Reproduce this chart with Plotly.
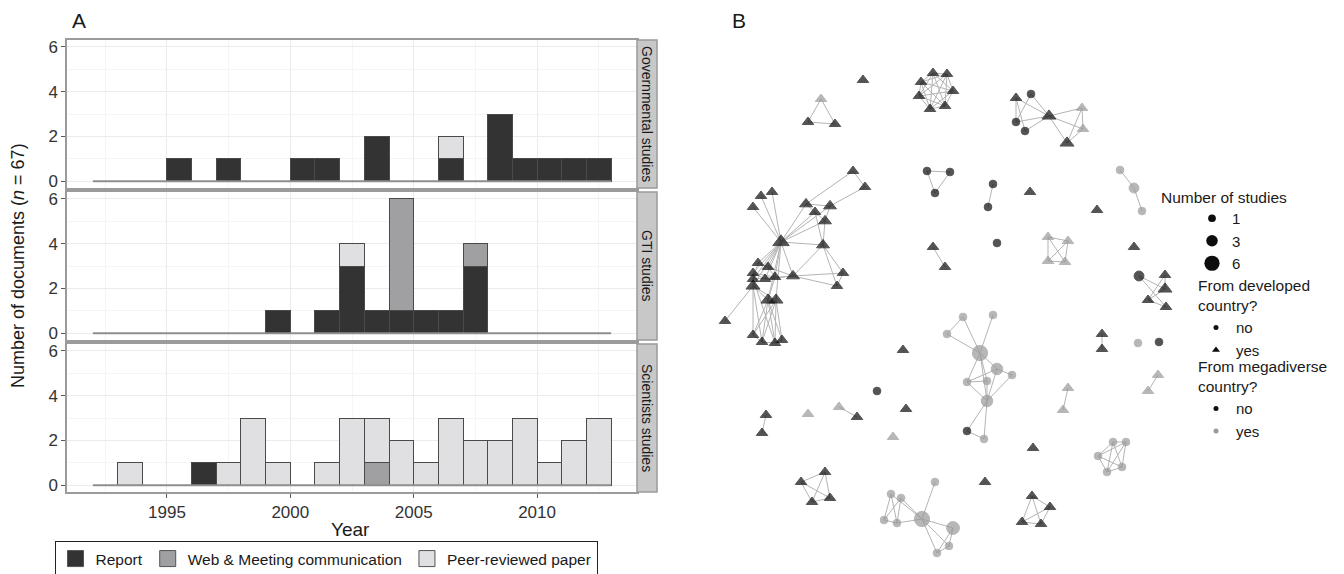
import math
import plotly.graph_objects as go

W, H = 1344, 574
OFF = 8  # the page body margin shifts the figure by this many pixels
FONT = "Liberation Sans, Arial, Helvetica, sans-serif"


def px(x):
    return (x - OFF) / W


def py(y):
    return 1 - (y - OFF) / H


# ---------------- Panel A data ----------------
years = list(range(1992, 2013))  # histogram bin starts (bin width 1 year)
doc_types = ["Report", "Web & Meeting communication", "Peer-reviewed paper"]
type_colors = ["#333333", "#a0a0a2", "#e0e0e2"]
panel_names = ["Governmental studies", "GTI studies", "Scientists studies"]

gov_report = [0, 0, 0, 1, 0, 1, 0, 0, 1, 1, 0, 2, 0, 0, 1, 0, 3, 1, 1, 1, 1]
gov_web    = [0, 0, 0, 0, 0, 0, 0, 0, 0, 0, 0, 0, 0, 0, 0, 0, 0, 0, 0, 0, 0]
gov_peer   = [0, 0, 0, 0, 0, 0, 0, 0, 0, 0, 0, 0, 0, 0, 1, 0, 0, 0, 0, 0, 0]

gti_report = [0, 0, 0, 0, 0, 0, 0, 1, 0, 1, 3, 1, 1, 1, 1, 3, 0, 0, 0, 0, 0]
gti_web    = [0, 0, 0, 0, 0, 0, 0, 0, 0, 0, 0, 0, 5, 0, 0, 1, 0, 0, 0, 0, 0]
gti_peer   = [0, 0, 0, 0, 0, 0, 0, 0, 0, 0, 1, 0, 0, 0, 0, 0, 0, 0, 0, 0, 0]

sci_report = [0, 0, 0, 0, 1, 0, 0, 0, 0, 0, 0, 0, 0, 0, 0, 0, 0, 0, 0, 0, 0]
sci_web    = [0, 0, 0, 0, 0, 0, 0, 0, 0, 0, 0, 1, 0, 0, 0, 0, 0, 0, 0, 0, 0]
sci_peer   = [0, 1, 0, 0, 0, 1, 3, 1, 0, 1, 3, 2, 2, 1, 3, 2, 2, 3, 1, 2, 3]

y_ticks = [0, 2, 4, 6]
x_ticks = [1995, 2000, 2005, 2010]

# ---------------- Panel B data (network layout) ----------------
node_x = [821, 808, 835, 863,
          933, 947, 921, 953, 919, 930, 945,
          1016, 1031, 1016, 1025, 1049, 1082, 1083, 1067,
          853, 865, 772, 761, 753, 806, 830, 815, 825, 781, 823,
          758, 768, 753, 753, 775, 765, 793, 843, 837, 753, 768, 776,
          725, 753, 762, 775, 782,
          927, 950, 935, 993, 988, 1030, 1120, 1134, 1142, 1097, 933, 945,
          997, 1048, 1068, 1048, 1065, 1134,
          1139, 1165, 1165, 1148, 1166,
          1102, 1102, 1138, 1159, 1158, 1148, 1068, 1063,
          1113, 1126, 1098, 1122, 1107,
          963, 993, 947, 980, 997, 1012, 967, 987, 987, 967, 984,
          903, 877, 906, 893, 1033, 985, 766, 762, 808, 839, 857,
          801, 825, 812, 830,
          935, 891, 901, 884, 897, 922, 953, 949, 937,
          1032, 1050, 1022, 1041]
node_y = [99, 122, 124, 80,
          73, 74, 82, 91, 96, 109, 106,
          98, 94, 122, 131, 116, 108, 129, 143,
          171, 187, 192, 196, 207, 204, 206, 212, 221, 242, 245,
          263, 267, 273, 279, 277, 279, 276, 273, 286, 286, 300, 300,
          321, 335, 342, 343, 340,
          171, 172, 193, 184, 207, 192, 170, 188, 211, 210, 247, 267,
          243, 237, 241, 261, 262, 247,
          276, 275, 289, 300, 307,
          334, 349, 343, 342, 375, 391, 388, 410,
          442, 442, 456, 467, 472,
          317, 315, 334, 353, 369, 375, 382, 381, 401, 431, 439,
          350, 391, 409, 437, 448, 482, 415, 433, 414, 407, 417,
          482, 472, 502, 498,
          482, 494, 498, 520, 523, 519, 528, 546, 553,
          496, 507, 522, 524]
node_studies = [1, 1, 1, 1,
                1, 1, 1, 1, 1, 1, 1,
                1, 1, 1, 1, 3, 1, 1, 3,
                1, 1, 1, 1, 1, 2, 2, 1, 2, 6, 2,
                1, 1, 1, 1, 1, 1, 2, 1, 1, 3, 3, 3,
                1, 1, 1, 1, 1,
                1, 1, 1, 1, 1, 1, 1, 2, 1, 1, 1, 1,
                1, 1, 1, 1, 1, 1,
                2, 1, 3, 1, 1,
                1, 1, 1, 1, 1, 1, 1, 1,
                1, 1, 1, 1, 1,
                1, 1, 1, 6, 3, 1, 1, 1, 3, 1, 1,
                1, 1, 1, 1, 1, 1, 1, 1, 1, 1, 1,
                1, 1, 1, 1,
                1, 1, 1, 1, 1, 6, 4, 1, 1,
                1, 1, 1, 1]
# 1 = from developed country (triangle), 0 = not (circle)
node_developed = [1, 1, 1, 1,
                  1, 1, 1, 1, 1, 1, 1,
                  1, 0, 0, 0, 1, 1, 1, 1,
                  1, 1, 1, 1, 1, 1, 1, 1, 1, 1, 1,
                  1, 1, 1, 1, 1, 1, 1, 1, 1, 1, 1, 1,
                  1, 1, 1, 1, 1,
                  0, 0, 0, 0, 0, 1, 0, 0, 0, 1, 1, 1,
                  0, 1, 1, 1, 1, 1,
                  0, 1, 1, 1, 1,
                  1, 1, 0, 0, 1, 1, 1, 1,
                  0, 0, 0, 0, 0,
                  0, 0, 0, 0, 0, 0, 0, 0, 0, 0, 0,
                  1, 0, 1, 1, 1, 1, 1, 1, 1, 1, 1,
                  1, 1, 1, 1,
                  0, 0, 0, 0, 0, 0, 0, 0, 0,
                  1, 1, 1, 1]
# 1 = from megadiverse country (grey), 0 = not (black)
node_megadiverse = [1, 0, 0, 0,
                    0, 0, 0, 0, 0, 0, 0,
                    0, 0, 0, 0, 0, 1, 1, 0,
                    0, 0, 0, 0, 0, 0, 0, 0, 0, 0, 0,
                    0, 0, 0, 0, 0, 0, 0, 0, 0, 0, 0, 0,
                    0, 0, 0, 0, 0,
                    0, 0, 0, 0, 0, 0, 1, 1, 1, 0, 0, 0,
                    0, 1, 1, 1, 1, 0,
                    0, 0, 0, 0, 0,
                    0, 0, 1, 0, 1, 1, 1, 1,
                    1, 1, 1, 1, 1,
                    1, 1, 1, 1, 1, 1, 1, 1, 1, 0, 1,
                    0, 0, 0, 1, 0, 0, 0, 0, 1, 1, 0,
                    0, 0, 0, 0,
                    1, 1, 1, 1, 1, 1, 1, 1, 1,
                    0, 0, 0, 0]
edges = [(0, 1), (0, 2), (1, 2),
         (4, 5), (4, 6), (4, 7), (4, 8), (4, 9), (4, 10), (5, 6), (5, 7), (5, 8), (5, 9), (5, 10),
         (6, 7), (6, 8), (6, 9), (6, 10), (7, 8), (7, 9), (7, 10), (8, 9), (8, 10), (9, 10),
         (11, 15), (11, 14), (12, 13), (12, 15), (13, 15), (14, 15), (11, 13),
         (15, 16), (15, 17), (15, 18), (16, 17), (16, 18), (17, 18),
         (28, 21), (28, 22), (28, 23), (28, 24), (28, 25), (28, 26), (28, 27), (28, 29),
         (24, 26), (24, 25), (25, 27), (26, 27), (24, 19), (25, 20), (19, 20), (27, 29), (26, 29),
         (28, 30), (28, 31), (28, 32), (28, 33), (28, 34), (28, 35), (28, 36), (28, 39), (28, 40), (28, 41),
         (30, 31), (30, 33), (31, 34), (32, 35), (33, 39), (34, 35), (35, 36), (31, 36), (33, 36),
         (39, 40), (39, 41), (34, 40), (32, 34),
         (36, 37), (29, 36), (29, 37), (29, 38), (37, 38), (36, 38),
         (39, 42),
         (40, 43), (40, 44), (40, 45), (40, 46), (41, 43), (41, 44), (41, 45), (41, 46),
         (43, 44), (44, 45), (45, 46), (39, 43), (39, 44), (33, 45),
         (47, 48), (47, 49), (48, 49), (50, 51), (53, 54), (54, 55), (57, 58),
         (60, 61), (60, 62), (60, 63), (61, 62), (61, 63), (62, 63),
         (65, 67), (66, 67), (67, 68), (68, 69), (66, 68), (65, 69),
         (70, 71), (74, 75), (76, 77),
         (78, 79), (78, 80), (78, 81), (78, 82), (79, 80), (79, 81), (79, 82), (80, 81), (80, 82), (81, 82),
         (83, 85), (83, 86), (84, 86), (85, 86), (86, 87), (86, 89), (86, 90), (86, 91), (87, 88),
         (87, 89), (87, 91), (88, 91), (89, 90), (89, 91), (90, 91), (91, 92), (91, 93), (92, 93),
         (100, 101), (103, 104),
         (105, 106), (105, 107), (105, 108), (106, 108), (107, 108), (106, 107),
         (109, 114), (110, 112), (110, 113), (110, 114), (111, 112), (111, 113), (111, 114),
         (112, 113), (113, 114), (114, 115), (114, 116), (114, 117), (115, 116), (115, 117), (116, 117),
         (118, 119), (118, 120), (118, 121), (119, 120), (119, 121), (120, 121)]
legend_study_sizes = [1, 3, 6]

# ---------------- figure ----------------
panel_counts = [[gov_report, gov_web, gov_peer],
                [gti_report, gti_web, gti_peer],
                [sci_report, sci_web, sci_peer]]
panel_tops = [40, 192, 344]
panel_bottoms = [188, 340, 492]
pl, pr = 67, 637

fig = go.Figure()
centers = [y + 0.5 for y in years]
for p, counts in enumerate(panel_counts):
    xa = "x" if p == 0 else f"x{p + 1}"
    ya = "y" if p == 0 else f"y{p + 1}"
    fig.add_trace(go.Scatter(x=[years[0], years[-1] + 1], y=[0, 0], mode="lines",
                             line=dict(color="#8e8e8e", width=2), xaxis=xa, yaxis=ya,
                             showlegend=False, hoverinfo="skip"))
    for t in range(3):
        fig.add_trace(go.Bar(x=centers, y=[v if v else None for v in counts[t]], width=1,
                             marker=dict(color=type_colors[t], line=dict(color="#4a4a4a", width=1)),
                             name=doc_types[t], xaxis=xa, yaxis=ya, showlegend=False))

# legend entries for panel A
for t in range(3):
    fig.add_trace(go.Scatter(x=[None], y=[None], mode="markers", name=doc_types[t],
                             marker=dict(symbol="square", size=16, color=type_colors[t],
                                         line=dict(color="#555555", width=1)),
                             xaxis="x3", yaxis="y3", legend="legend"))

# network edges
ex, ey = [], []
for a, b in edges:
    ex += [node_x[a], node_x[b], None]
    ey += [node_y[a], node_y[b], None]
fig.add_trace(go.Scatter(x=ex, y=ey, mode="lines", line=dict(color="#b4b4b4", width=1),
                         xaxis="x4", yaxis="y4", showlegend=False, hoverinfo="skip"))


def circ_size(n):
    return 2.5 + 5.2 * math.sqrt(n)


def tri_size(n):
    return 7 + 3 * math.sqrt(n)


sizes = [tri_size(n) if d else circ_size(n) for n, d in zip(node_studies, node_developed)]
symbols = ["triangle-up" if d else "circle" for d in node_developed]
colors = ["#9a9a9a" if m else "#0d0d0d" for m in node_megadiverse]
fig.add_trace(go.Scatter(x=node_x, y=node_y, mode="markers",
                         marker=dict(size=sizes, symbol=symbols, color=colors,
                                     line=dict(width=1, color=colors)),
                         xaxis="x4", yaxis="y4", showlegend=False))

# panel B legends
for n in legend_study_sizes:
    fig.add_trace(go.Scatter(x=[None], y=[None], mode="markers", name=str(n),
                             marker=dict(size=circ_size(n), color="#0d0d0d", symbol="circle"),
                             xaxis="x4", yaxis="y4", legend="legend2"))
for name, sym in [("no", "circle"), ("yes", "triangle-up")]:
    fig.add_trace(go.Scatter(x=[None], y=[None], mode="markers", name=name,
                             marker=dict(size=5 if sym == "circle" else 7, color="#0d0d0d", symbol=sym),
                             xaxis="x4", yaxis="y4", legend="legend3"))
for name, col in [("no", "#0d0d0d"), ("yes", "#9a9a9a")]:
    fig.add_trace(go.Scatter(x=[None], y=[None], mode="markers", name=name,
                             marker=dict(size=5, color=col, symbol="circle"),
                             xaxis="x4", yaxis="y4", legend="legend4"))

lo, hi = years[0], years[-1] + 1
pad = 0.05 * (hi - lo)
layout = dict(
    width=W, height=H, margin=dict(l=0, r=0, t=0, b=0), template="none",
    paper_bgcolor="white", plot_bgcolor="rgba(0,0,0,0)", barmode="stack",
    font=dict(family=FONT, color="#1a1a1a"),
    shapes=[], annotations=[],
)
for p in range(3):
    sfx = "" if p == 0 else str(p + 1)
    ydom = [py(panel_bottoms[p]), py(panel_tops[p])]
    layout["xaxis" + sfx] = dict(
        domain=[px(pl), px(pr)], range=[lo - pad, hi + pad], anchor="y" + sfx,
        showline=True, mirror=True, linecolor="#9b9b9b", linewidth=1.5,
        showgrid=True, gridcolor="#ebebeb", gridwidth=1, zeroline=False,
        tickmode="array", tickvals=x_ticks,
        minor=dict(tickmode="array", tickvals=[t - 2.5 for t in x_ticks] + [x_ticks[-1] + 2.5],
                   showgrid=True, gridcolor="#f5f5f5", ticks=""),
        ticks="outside" if p == 2 else "", ticklen=4, tickcolor="#5a5a5a",
        showticklabels=(p == 2), tickfont=dict(size=17, color="#333333"), automargin=False,
    )
    layout["yaxis" + sfx] = dict(
        domain=ydom, range=[-0.3, 6.3], anchor="x" + sfx,
        showline=True, mirror=True, linecolor="#9b9b9b", linewidth=1.5,
        showgrid=True, gridcolor="#ebebeb", zeroline=False,
        tickmode="array", tickvals=y_ticks,
        minor=dict(tickmode="array", tickvals=[1, 3, 5], showgrid=True, gridcolor="#f5f5f5", ticks=""),
        ticks="outside", ticklen=4, tickcolor="#5a5a5a",
        tickfont=dict(size=17, color="#333333"), automargin=False,
    )
    layout["shapes"].append(dict(type="rect", xref="paper", yref="paper",
                                 x0=px(pr), x1=px(pr + 20), y0=ydom[0], y1=ydom[1],
                                 fillcolor="#c8c8c8", line=dict(color="#9b9b9b", width=1.5)))
    layout["annotations"].append(dict(text=panel_names[p], x=px(pr + 10), y=(ydom[0] + ydom[1]) / 2,
                                      xref="paper", yref="paper", showarrow=False, textangle=90,
                                      xanchor="center", yanchor="middle",
                                      font=dict(size=14, color="#1a1a1a")))

layout["xaxis4"] = dict(domain=[0, 1], range=[OFF, W + OFF], visible=False, anchor="y4")
layout["yaxis4"] = dict(domain=[0, 1], range=[H + OFF, OFF], visible=False, anchor="x4")


def ann(text, x, y, size, angle=0):
    return dict(text=text, x=px(x), y=py(y), xref="paper", yref="paper", showarrow=False,
                textangle=angle, xanchor="center", yanchor="middle",
                font=dict(size=size, color="#1a1a1a"))


panel_letter = lambda t, x: dict(text=t, x=px(x), y=1.0, xref="paper", yref="paper", showarrow=False,
                                 xanchor="center", yanchor="top", borderpad=0,
                                 font=dict(size=21, color="#1a1a1a"))

layout["annotations"] += [
    ann("Number of documents (<i>n</i> = 67)", 18, 266, 18, -90),
    ann("Year", 350, 529, 19),
    panel_letter("A", 79),
    panel_letter("B", 739),
    dict(text="Number of studies", x=px(1159), y=py(197), xref="paper", yref="paper", showarrow=False,
         xanchor="left", yanchor="middle", font=dict(size=15.5, color="#1a1a1a")),
]

layout["legend"] = dict(orientation="h", x=px(326), xanchor="center", y=py(541), yanchor="top",
                        bordercolor="#222222", borderwidth=1, bgcolor="white", traceorder="normal",
                        font=dict(size=15.5), itemsizing="trace")
leg_common = dict(xanchor="left", yanchor="top", bgcolor="rgba(0,0,0,0)", borderwidth=0,
                  font=dict(size=15), itemsizing="trace", orientation="v", traceorder="normal")
layout["legend2"] = dict(x=px(1192), y=py(202), **leg_common)
layout["legend3"] = dict(x=px(1196), y=py(271),
                         title=dict(text="From developed<br>country?", font=dict(size=15.5)), **leg_common)
layout["legend4"] = dict(x=px(1196), y=py(352),
                         title=dict(text="From megadiverse<br>country?", font=dict(size=15.5)), **leg_common)

fig.update_layout(**layout)
fig.write_html("out.html")
